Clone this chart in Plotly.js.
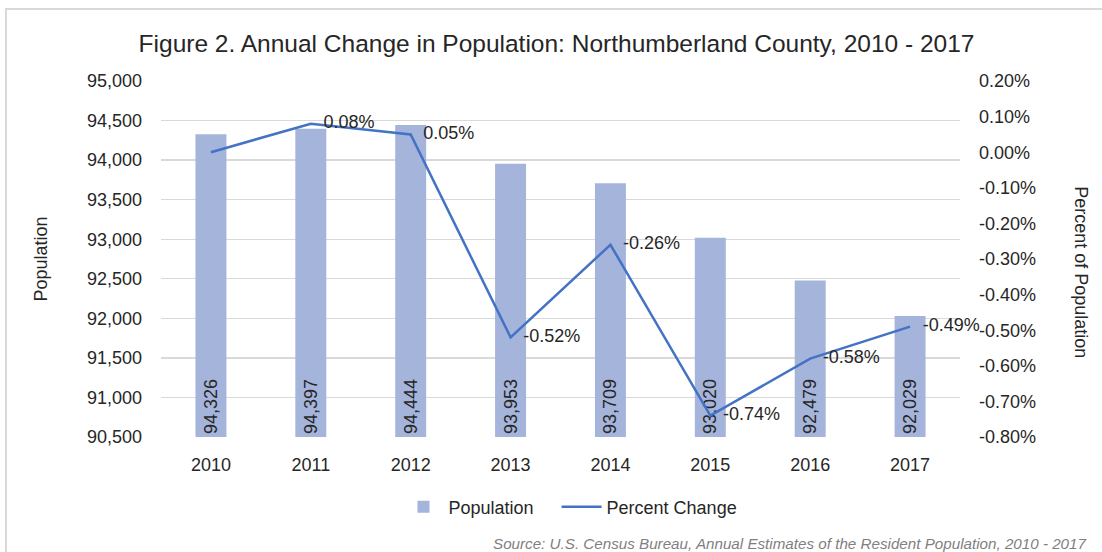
<!DOCTYPE html>
<html>
<head>
<meta charset="utf-8">
<script src="https://cdn.plot.ly/plotly-3.0.1.min.js"></script>
<style>
  html, body { margin: 0; padding: 0; background: #fff; overflow: hidden; }
  #wrap { position: relative; width: 1102px; height: 552px; }
  #chart { width: 1102px; height: 552px; }
  #frame { position: absolute; left: 5px; top: 8px; width: 1200px; height: 700px;
           border: 2px solid #D9D9D9; pointer-events: none; box-sizing: border-box; }
</style>
</head>
<body>
<div id="wrap">
  <div id="chart"></div>
  <div id="frame"></div>
</div>
<script>
const years = ['2010', '2011', '2012', '2013', '2014', '2015', '2016', '2017'];
const population = [94326, 94397, 94444, 93953, 93709, 93020, 92479, 92029];
const percentChange = [0.00, 0.08, 0.05, -0.52, -0.26, -0.74, -0.58, -0.49];
const percentLabels = ['', '0.08%', '0.05%', '-0.52%', '-0.26%', '-0.74%', '-0.58%', '-0.49%'];
const popAxisMin = 90500;
const popAxisMax = 95000;
const popTickVals = [90500, 91000, 91500, 92000, 92500, 93000, 93500, 94000, 94500, 95000];
const pctTickVals = [0.2, 0.1, 0.0, -0.1, -0.2, -0.3, -0.4, -0.5, -0.6, -0.7, -0.8];
const pctTickText = ['0.20%', '0.10%', '0.00%', '-0.10%', '-0.20%', '-0.30%', '-0.40%', '-0.50%', '-0.60%', '-0.70%', '-0.80%'];

const FONT = 'Liberation Sans, Arial, sans-serif';
const TXT = '#262626';

// Bars start at the axis minimum (as in the original chart) so the value labels sit at the bar foot.
const barTrace = {
  type: 'bar',
  name: 'Population\u2003',
  x: years,
  base: population.map(() => popAxisMin),
  y: population.map(v => v - popAxisMin),
  width: 0.31,
  marker: { color: '#A5B4DA' },
  text: population.map(v => v.toLocaleString('en-US')),
  textposition: 'inside',
  insidetextanchor: 'start',
  textangle: -90,
  constraintext: 'none',
  insidetextfont: { family: FONT, size: 18, color: TXT },
  hoverinfo: 'x+text'
};

const lineTrace = {
  type: 'scatter',
  mode: 'lines+text',
  name: 'Percent Change',
  x: years,
  y: percentChange,
  yaxis: 'y2',
  line: { color: '#4472C4', width: 2.5 },
  text: percentLabels.map(t => t ? '\u2002\u2009' + t : t),
  textposition: 'middle right',
  textfont: { family: FONT, size: 18, color: TXT },
  cliponaxis: false
};

const layout = {
  width: 1102,
  height: 552,
  margin: { l: 161, r: 142, t: 81, b: 115 },
  paper_bgcolor: '#ffffff',
  plot_bgcolor: '#ffffff',
  font: { family: FONT, size: 18, color: TXT },
  title: {
    text: 'Figure 2. Annual Change in Population: Northumberland County, 2010 - 2017',
    font: { family: FONT, size: 24.5, color: TXT },
    x: 0.505, xanchor: 'center',
    y: 1 - 43 / 552, yanchor: 'middle'
  },
  xaxis: {
    type: 'category',
    showgrid: false,
    showline: false,
    zeroline: false,
    ticks: '',
    ticklabelstandoff: 15,
    tickfont: { family: FONT, size: 18, color: TXT }
  },
  yaxis: {
    range: [popAxisMin, popAxisMax],
    tickvals: popTickVals,
    tickformat: ',d',
    showgrid: true,
    gridcolor: '#D9D9D9',
    gridwidth: 1.3,
    zeroline: false,
    showline: false,
    ticks: '',
    ticklabelstandoff: 18,
    tickfont: { family: FONT, size: 18, color: TXT },
    title: { text: 'Population', font: { family: FONT, size: 18, color: TXT }, standoff: 34 }
  },
  yaxis2: {
    overlaying: 'y',
    side: 'right',
    range: [-0.8, 0.2],
    tickvals: pctTickVals,
    ticktext: pctTickText,
    showgrid: false,
    zeroline: false,
    showline: false,
    ticks: '',
    ticklabelstandoff: 18,
    tickfont: { family: FONT, size: 18, color: TXT }
  },
  showlegend: true,
  legend: {
    orientation: 'h',
    x: 0.5125, xanchor: 'center',
    y: -70 / 356, yanchor: 'middle',
    font: { family: FONT, size: 18, color: TXT },
    itemwidth: 40
  },
  annotations: [
    {
      text: 'Percent of Population',
      textangle: 90,
      xref: 'paper', yref: 'paper',
      x: (1082 - 161) / 800, y: (437 - 272) / 356,
      xanchor: 'center', yanchor: 'middle',
      showarrow: false,
      font: { family: FONT, size: 18, color: TXT }
    },
    {
      text: 'Source: U.S. Census Bureau, Annual Estimates of the Resident Population, 2010 - 2017',
      xref: 'paper', yref: 'paper',
      x: (1090 - 161) / 800, y: (437 - 543) / 356,
      xanchor: 'right', yanchor: 'middle',
      showarrow: false,
      font: { family: FONT, size: 15.2, color: '#7F7F7F', style: 'italic' }
    }
  ]
};

Plotly.newPlot('chart', [barTrace, lineTrace], layout, { displayModeBar: false, staticPlot: true });
</script>
</body>
</html>
